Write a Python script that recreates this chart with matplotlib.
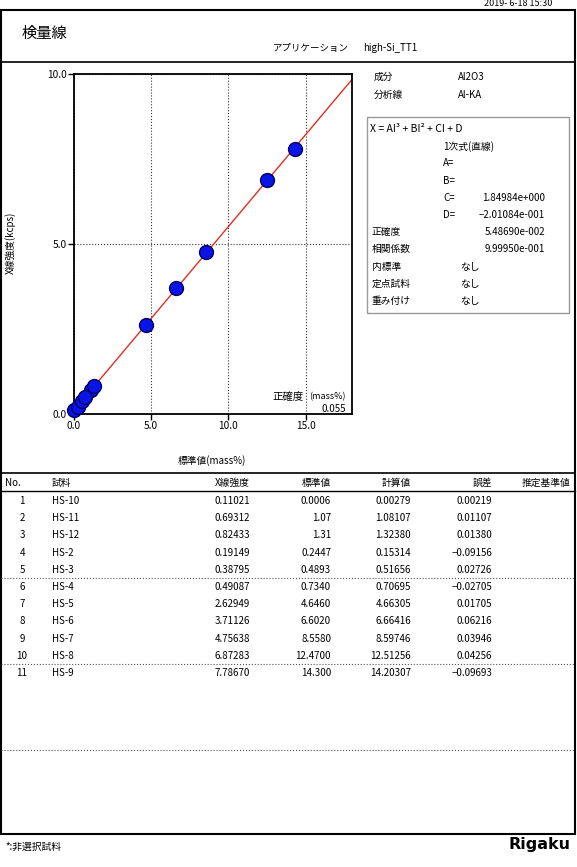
import matplotlib
matplotlib.use('Agg')
import matplotlib.pyplot as plt
from matplotlib.lines import Line2D
from matplotlib.patches import Rectangle

plt.rcParams['font.family'] = ['Noto Sans CJK JP', 'DejaVu Sans']

W, H = 577, 867

#=======================================================
# data
nos = ['1', '2', '3', '4', '5', '6', '7', '8', '9', '10', '11']
samples = ['HS-10', 'HS-11', 'HS-12', 'HS-2', 'HS-3', 'HS-4', 'HS-5', 'HS-6', 'HS-7', 'HS-8', 'HS-9']
intensity = ['0.11021', '0.69312', '0.82433', '0.19149', '0.38795', '0.49087',
             '2.62949', '3.71126', '4.75638', '6.87283', '7.78670']
standard = ['0.0006', '1.07', '1.31', '0.2447', '0.4893', '0.7340',
            '4.6460', '6.6020', '8.5580', '12.4700', '14.300']
calculated = ['0.00279', '1.08107', '1.32380', '0.15314', '0.51656', '0.70695',
              '4.66305', '6.66416', '8.59746', '12.51256', '14.20307']
errors = ['0.00219', '0.01107', '0.01380', '\u22120.09156', '0.02726', '\u22120.02705',
          '0.01705', '0.06216', '0.03946', '0.04256', '\u22120.09693']

coef_C = 1.84984
coef_D = -0.201084

info_top = [('成分', 'Al2O3'), ('分析線', 'Al-KA')]
coef_rows = [('A=', ''), ('B=', ''), ('C=', '1.84984e+000'), ('D=', '\u22122.01084e-001')]
stat_rows = [('正確度', '5.48690e-002'), ('相関係数', '9.99950e-001')]
flag_rows = [('内標準', 'なし'), ('定点試料', 'なし'), ('重み付け', 'なし')]

#=======================================================
fig = plt.figure(figsize=(W / 100, H / 100), dpi=100)

def fx(x):
    return x / W

def fy(y):
    return 1 - y / H

def txt(x, y, s, size=7, ha='left', **kw):
    fig.text(fx(x), fy(y), s, size=size, ha=ha, va='center', **kw)

def hline(y, x0=1, x1=575, ls='-', lw=1.0, color='black'):
    fig.add_artist(Line2D([fx(x0), fx(x1)], [fy(y), fy(y)], transform=fig.transFigure,
                          ls=ls, lw=lw, color=color))

# frame
fig.add_artist(Rectangle((fx(1), fy(834)), fx(574), (834 - 10) / H, transform=fig.transFigure,
                         fill=False, lw=1.5, ec='black'))
hline(62, lw=1.2)
hline(473, lw=1.2)
hline(491, lw=1.0)
hline(578, ls=':', lw=0.8, color='#555555')
hline(664, ls=':', lw=0.8, color='#555555')
hline(750, ls=':', lw=0.8, color='#555555')

# header
txt(518, 4, '2019- 6-18 15:30', size=6.5, ha='center')
txt(22, 33, '検量線', size=11)
txt(273, 48, 'アプリケーション', size=6.8)
txt(363, 48, 'high-Si_TT1', size=7)

#=======================================================
# chart
ax = fig.add_axes([fx(74), fy(414), fx(352 - 74), (414 - 74) / H])
xs = [float(v) for v in standard]
ys = [float(v) for v in intensity]
ax.axline((coef_D, 0), slope=1 / coef_C, color='#e03020', lw=1.0, zorder=2)
ax.plot(xs, ys, 'o', ms=10, mfc='#0a14e6', mec='#000060', mew=1.0, zorder=3, clip_on=False)
ax.set_xlim(0, 18)
ax.set_ylim(0, 10)
ax.set_xticks([0, 5, 10, 15])
ax.set_yticks([0, 5, 10])
ax.set_xticklabels(['0.0', '5.0', '10.0', '15.0'])
ax.set_yticklabels(['0.0', '5.0', '10.0'])
ax.tick_params(direction='out', length=4, width=1, labelsize=7.3, pad=1)
ax.grid(True, ls=':', color='#333333', lw=0.8)
for s in ax.spines.values():
    s.set_linewidth(1.3)

txt(304, 397, '正確度', size=7.5, ha='right')
txt(346, 397, '(mass%)', size=6.5, ha='right')
txt(346, 409, '0.055', size=7, ha='right')

fig.text(fx(10), fy(243), 'X線強度(kcps)', size=7, rotation=90, ha='center', va='center')
txt(212, 461, '標準値(mass%)', size=7, ha='center')

#=======================================================
# info panel
for i, (k, v) in enumerate(info_top):
    txt(374, 77 + i * 18, k, size=7)
    txt(458, 77 + i * 18, v, size=7)

fig.add_artist(Rectangle((fx(367), fy(313)), fx(569 - 367), (313 - 117) / H, transform=fig.transFigure,
                         fill=False, lw=1.0, ec='#999999'))
step = 17.2
txt(370, 129, 'X = AI³ + BI² + CI + D', size=7.5)
txt(443, 129 + step, '1次式(直線)', size=7)
y = 129 + 2 * step
for k, v in coef_rows:
    txt(443, y, k, size=7)
    txt(545, y, v, size=7, ha='right')
    y += step
for k, v in stat_rows:
    txt(372, y, k, size=7)
    txt(545, y, v, size=7, ha='right')
    y += step
for k, v in flag_rows:
    txt(372, y, k, size=7)
    txt(460, y, v, size=7)
    y += step

#=======================================================
# table
txt(5, 483, 'No.', size=7)
txt(52, 483, '試料', size=7)
txt(250, 483, 'X線強度', size=7, ha='right')
txt(331, 483, '標準値', size=7, ha='right')
txt(411, 483, '計算値', size=7, ha='right')
txt(492, 483, '誤差', size=7, ha='right')
txt(570, 483, '推定基準値', size=7, ha='right')

for i in range(len(nos)):
    y = 501 + i * 17.2
    txt(22, y, nos[i], size=7, ha='center')
    txt(52, y, samples[i], size=7)
    txt(250, y, intensity[i], size=7, ha='right')
    txt(331, y, standard[i], size=7, ha='right')
    txt(411, y, calculated[i], size=7, ha='right')
    txt(492, y, errors[i], size=7, ha='right')

# footer
txt(5, 847, '*:非選択試料', size=7)
fig.text(fx(571), fy(844), 'Rigaku', size=11.5, ha='right', va='center',
         family='DejaVu Sans', weight='heavy')

fig.savefig('out.png', dpi=100)
